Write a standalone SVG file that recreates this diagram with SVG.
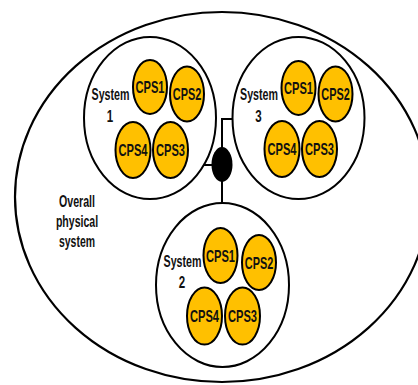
<svg xmlns="http://www.w3.org/2000/svg" width="418" height="385" viewBox="0 0 418 385">
<style>
.outer{fill:none;stroke:#000;stroke-width:2.2}
.sys{fill:#fff;stroke:#000;stroke-width:2}
.cps{fill:#FFC000;stroke:#000;stroke-width:2}
.conn{fill:none;stroke:#000;stroke-width:2}
text{font-family:"Liberation Sans",Arial,sans-serif;font-weight:bold;font-size:16.5px;fill:#111;text-anchor:middle}
</style>
<rect width="418" height="385" fill="#fff"/>
<g id="overall">
<ellipse class="outer" cx="222" cy="197" rx="207" ry="185"/>
<g transform="translate(77,207) scale(0.645,1)"><text>Overall</text></g>
<g transform="translate(77,227) scale(0.64,1)"><text>physical</text></g>
<g transform="translate(77,247) scale(0.635,1)"><text>system</text></g>
</g>
<g id="connectors">
<polyline class="conn" points="204,165 213,165"/>
<polyline class="conn" points="222,148 222,119 233,119"/>
<polyline class="conn" points="222,181 222,204"/>
<ellipse cx="222" cy="164.5" rx="10.5" ry="17.5" fill="#000"/>
</g>
<g id="system1" transform="translate(150,118)">
<ellipse class="sys" cx="0" cy="0" rx="66" ry="81"/>
<g transform="translate(-39.5,-18) scale(0.647,1)"><text>System</text></g>
<g transform="translate(-40,4) scale(0.7,1)"><text>1</text></g>
<g id="s1cps1"><ellipse class="cps" cx="0" cy="-31" rx="17" ry="27"/><g transform="translate(0,-25) scale(0.673,1)"><text>CPS1</text></g></g>
<g id="s1cps2"><ellipse class="cps" cx="37" cy="-24" rx="17" ry="27.5"/><g transform="translate(37,-18) scale(0.66,1)"><text>CPS2</text></g></g>
<g id="s1cps4"><ellipse class="cps" cx="-17" cy="32" rx="17.5" ry="28"/><g transform="translate(-17,38) scale(0.673,1)"><text>CPS4</text></g></g>
<g id="s1cps3"><ellipse class="cps" cx="20.5" cy="32" rx="17.5" ry="28"/><g transform="translate(20.5,38) scale(0.673,1)"><text>CPS3</text></g></g>
</g>
<g id="system3" transform="translate(298.5,118)">
<ellipse class="sys" cx="0" cy="0" rx="66" ry="81"/>
<g transform="translate(-39.5,-18) scale(0.647,1)"><text>System</text></g>
<g transform="translate(-40,4) scale(0.7,1)"><text>3</text></g>
<g id="s3cps1"><ellipse class="cps" cx="0" cy="-30" rx="17" ry="27"/><g transform="translate(0,-24) scale(0.673,1)"><text>CPS1</text></g></g>
<g id="s3cps2"><ellipse class="cps" cx="37" cy="-24" rx="17" ry="27.5"/><g transform="translate(37,-18) scale(0.66,1)"><text>CPS2</text></g></g>
<g id="s3cps4"><ellipse class="cps" cx="-16.5" cy="31" rx="17.5" ry="28"/><g transform="translate(-16.5,37) scale(0.673,1)"><text>CPS4</text></g></g>
<g id="s3cps3"><ellipse class="cps" cx="21" cy="31" rx="17.5" ry="28"/><g transform="translate(21,37) scale(0.673,1)"><text>CPS3</text></g></g>
</g>
<g id="system2" transform="translate(222.5,285)">
<ellipse class="sys" cx="0" cy="0" rx="66.5" ry="82"/>
<g transform="translate(-40,-18) scale(0.647,1)"><text>System</text></g>
<g transform="translate(-40.5,3) scale(0.7,1)"><text>2</text></g>
<g id="s2cps1"><ellipse class="cps" cx="-2" cy="-29.5" rx="17" ry="27.5"/><g transform="translate(-2,-23.5) scale(0.673,1)"><text>CPS1</text></g></g>
<g id="s2cps2"><ellipse class="cps" cx="36.5" cy="-22.5" rx="17" ry="27.5"/><g transform="translate(36.5,-16.5) scale(0.66,1)"><text>CPS2</text></g></g>
<g id="s2cps4"><ellipse class="cps" cx="-18" cy="31" rx="17.5" ry="28.5"/><g transform="translate(-18,37) scale(0.673,1)"><text>CPS4</text></g></g>
<g id="s2cps3"><ellipse class="cps" cx="20" cy="31" rx="17.5" ry="28.5"/><g transform="translate(20,37) scale(0.673,1)"><text>CPS3</text></g></g>
</g>
</svg>
